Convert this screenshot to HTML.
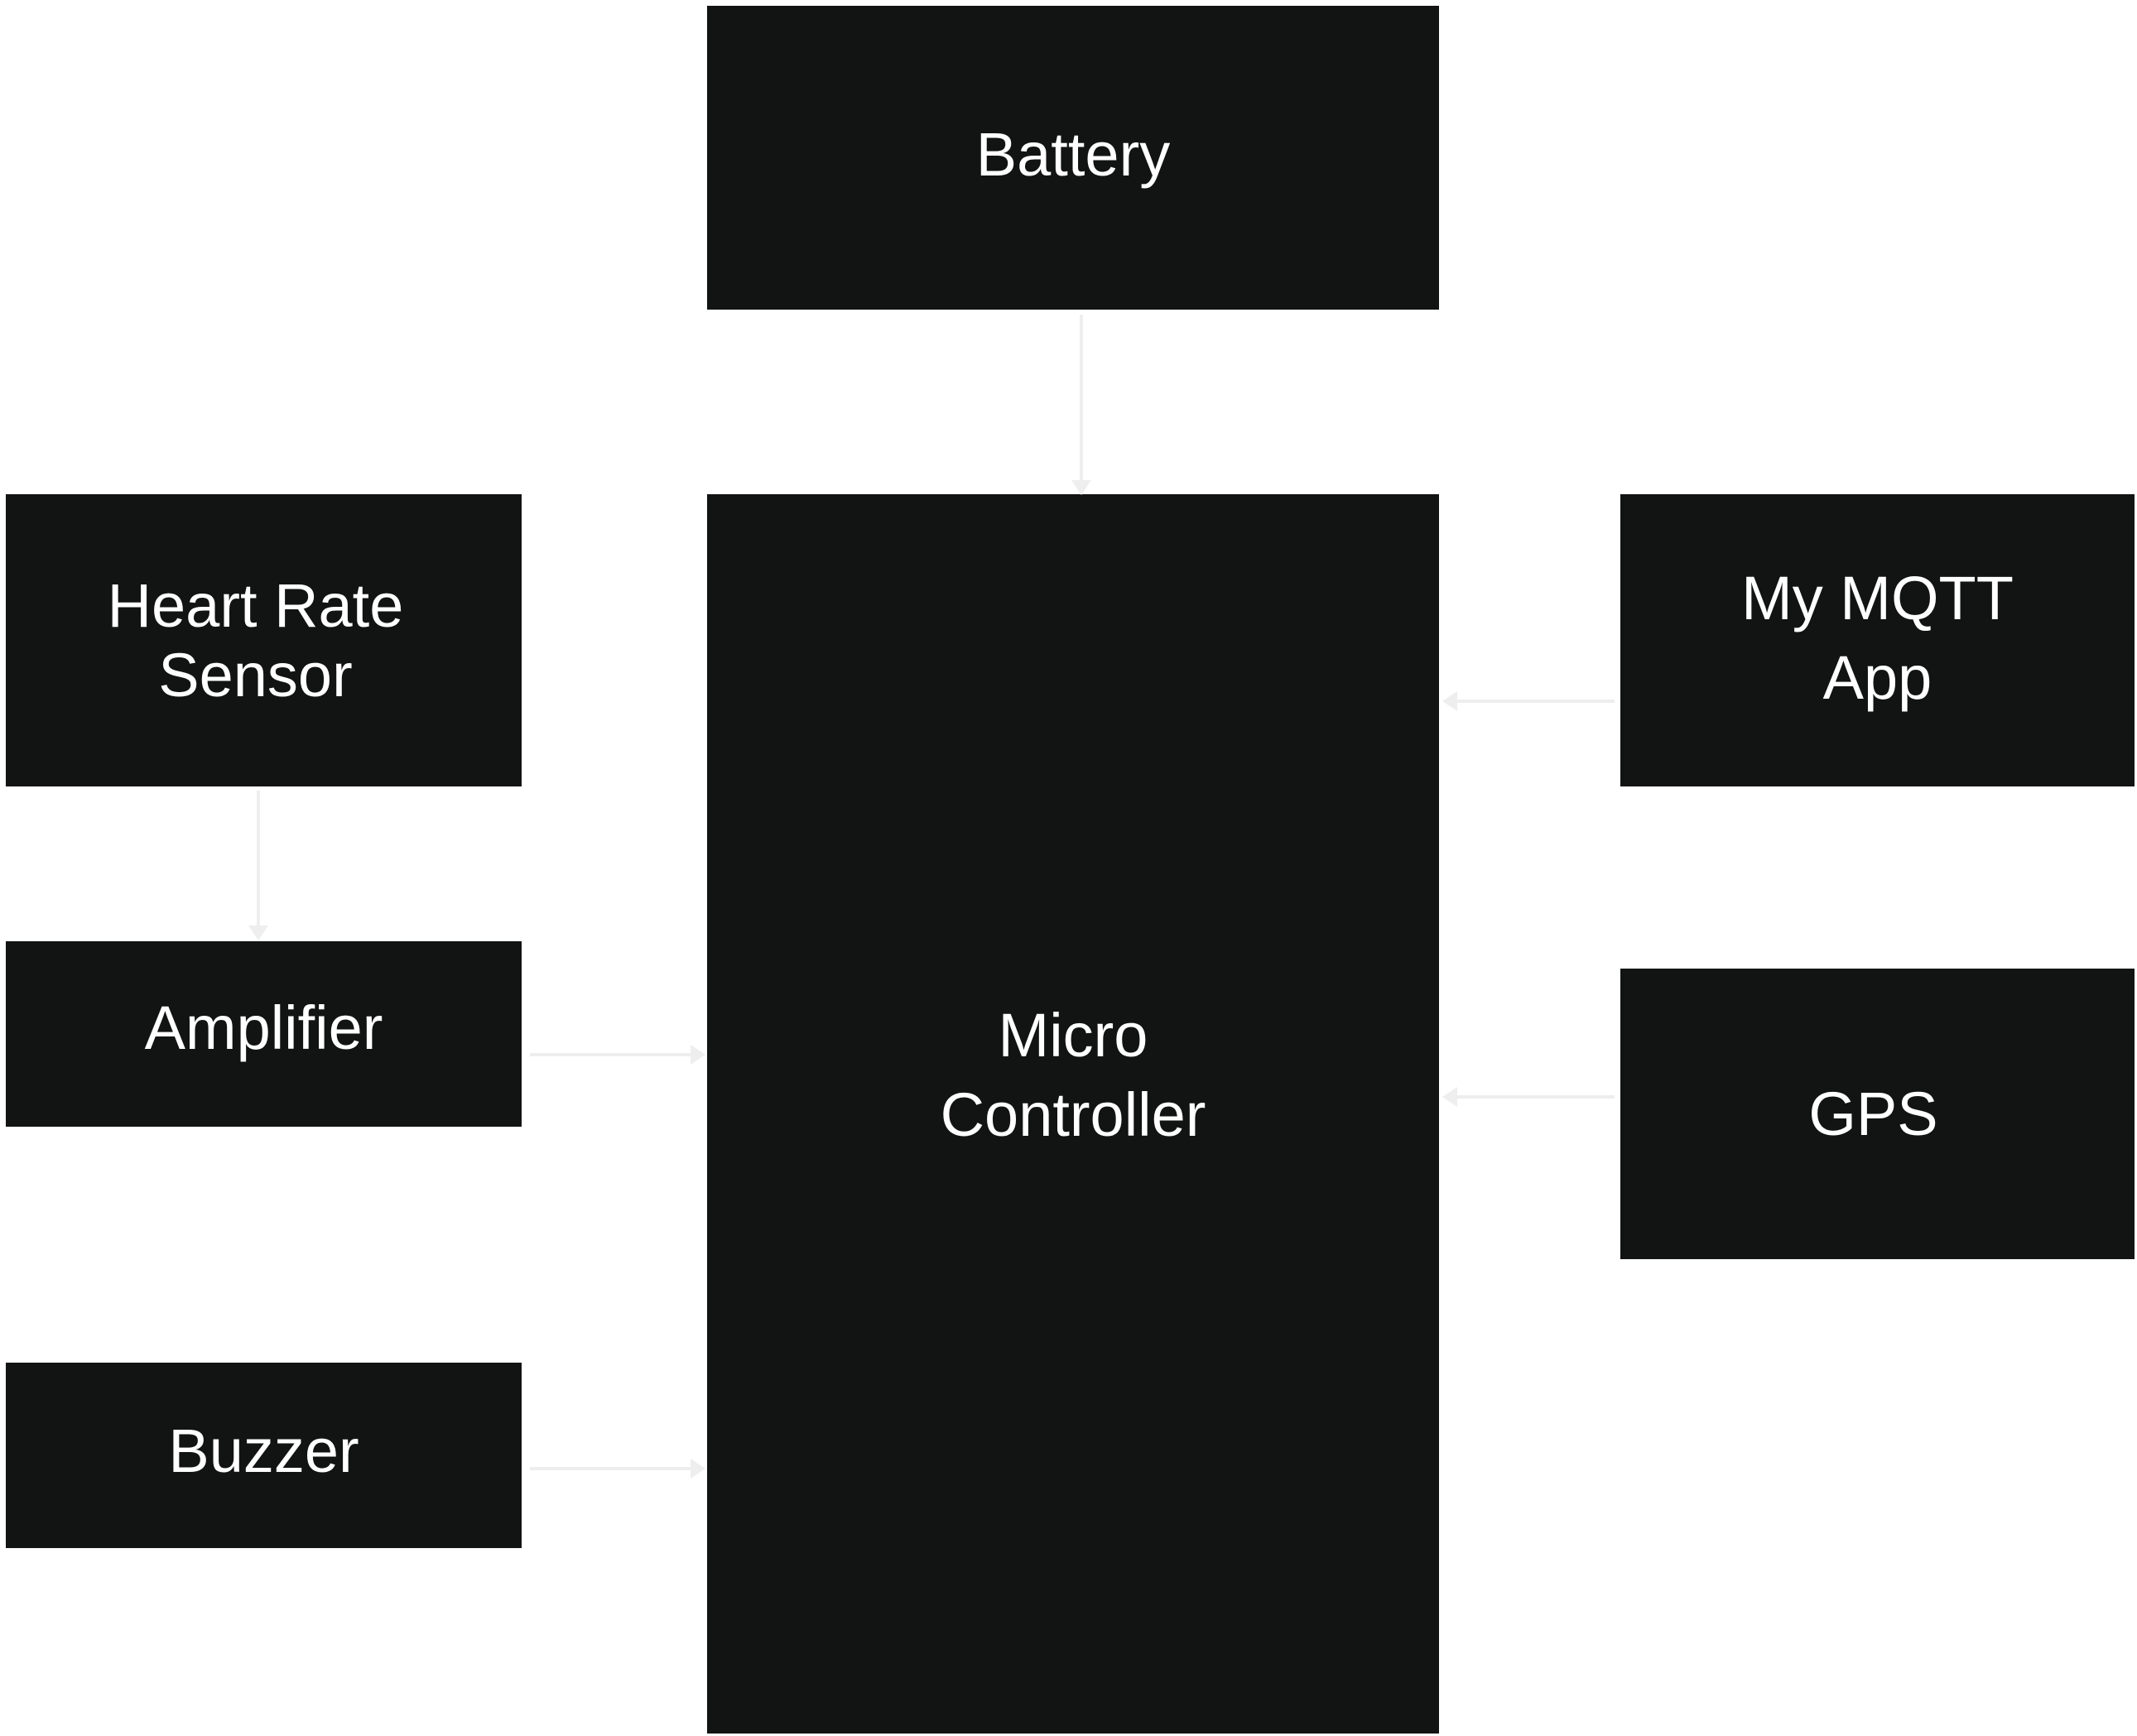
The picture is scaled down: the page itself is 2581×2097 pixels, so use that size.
<!DOCTYPE html>
<html><head><style>
body{margin:0;width:2581px;height:2097px;background:#fff;position:relative;overflow:hidden;font-family:"Liberation Sans",sans-serif}
.b{position:absolute;background:#111412;color:#fff;display:flex;align-items:center;justify-content:center;text-align:center;font-size:74px;line-height:84px}
svg{position:absolute;left:0;top:0}
</style></head><body>
<div class="b" style="left:854px;top:7px;width:884px;height:367px;padding-bottom:8px;box-sizing:border-box">Battery</div>
<div class="b" style="left:854px;top:597px;width:884px;height:1497px;padding-bottom:94px;box-sizing:border-box;line-height:96px">Micro<br>Controller</div>
<div class="b" style="left:7px;top:597px;width:623px;height:353px;padding-bottom:0;padding-right:20px;box-sizing:border-box">Heart Rate<br>Sensor</div>
<div class="b" style="left:7px;top:1137px;width:623px;height:224px;padding-bottom:14px;box-sizing:border-box">Amplifier</div>
<div class="b" style="left:7px;top:1646px;width:623px;height:224px;padding-bottom:10px;box-sizing:border-box">Buzzer</div>
<div class="b" style="left:1957px;top:597px;width:621px;height:353px;padding-bottom:6px;box-sizing:border-box;line-height:96px">My MQTT<br>App</div>
<div class="b" style="left:1957px;top:1170px;width:621px;height:351px;padding-right:10px;box-sizing:border-box">GPS</div>
<svg width="2581" height="2097" stroke="#eee" stroke-width="4" fill="#eee">
<line x1="1306" y1="380" x2="1306" y2="585"/><polygon points="1294,580 1318,580 1306,598" stroke="none"/>
<line x1="312" y1="955" x2="312" y2="1122"/><polygon points="300,1118 324,1118 312,1136" stroke="none"/>
<line x1="640" y1="1274" x2="838" y2="1274"/><polygon points="834,1262 834,1286 852,1274" stroke="none"/>
<line x1="640" y1="1774" x2="838" y2="1774"/><polygon points="834,1762 834,1786 852,1774" stroke="none"/>
<line x1="1950" y1="847" x2="1756" y2="847"/><polygon points="1760,835 1760,859 1742,847" stroke="none"/>
<line x1="1950" y1="1325" x2="1756" y2="1325"/><polygon points="1760,1313 1760,1337 1742,1325" stroke="none"/>
</svg>
</body></html>
